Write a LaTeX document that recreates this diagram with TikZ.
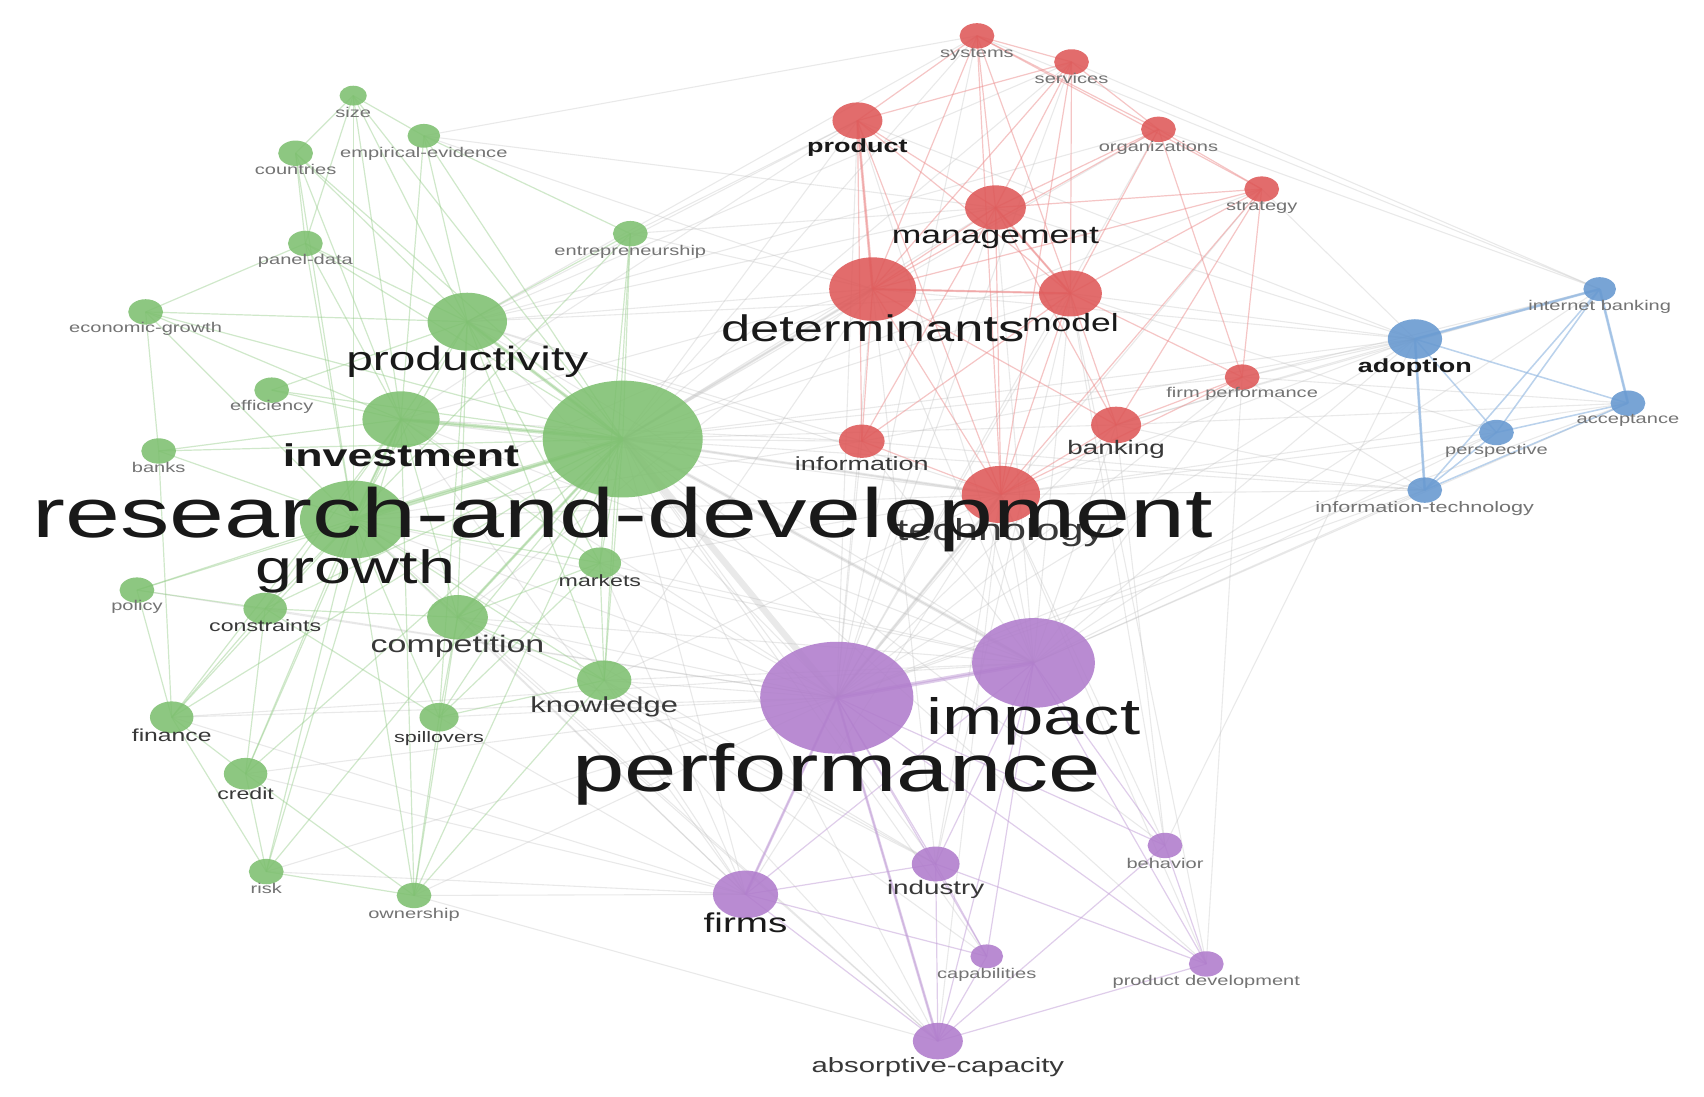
\documentclass[tikz,border=0pt]{standalone}
\usepackage{fontspec}
\setmainfont{Liberation Sans}[FakeStretch=1.42]
\usetikzlibrary{shapes.geometric,backgrounds}
\definecolor{ngreen}{RGB}{126,192,112}
\definecolor{nred}{RGB}{222,88,88}
\definecolor{nblue}{RGB}{102,152,208}
\definecolor{npurple}{RGB}{176,124,204}
\definecolor{egreen}{RGB}{150,205,138}
\definecolor{ered}{RGB}{236,140,140}
\definecolor{eblue}{RGB}{150,186,226}
\definecolor{epurple}{RGB}{192,156,214}
\definecolor{egray}{RGB}{185,185,185}
\newcommand\fsz[1]{\fontsize{#1}{#1}\selectfont}
\tikzset{
 kw/.style={ellipse, inner sep=0pt, fill opacity=0.88, draw=none},
 kwg/.style={kw, fill=ngreen},
 kwr/.style={kw, fill=nred},
 kwb/.style={kw, fill=nblue},
 kwp/.style={kw, fill=npurple},
 lab/.style={anchor=base, inner sep=0pt},
 lsmall/.style={lab, font=\fsz{13}, text=black!55},
 lmid/.style={lab, text=black!78},
 lbig/.style={lab, text=black!90},
 eg/.style={draw=egreen, line width=1.1pt, draw opacity=0.45},
 er/.style={draw=ered, line width=1.1pt, draw opacity=0.5},
 eb/.style={draw=eblue, line width=1.4pt, draw opacity=0.65},
 ep/.style={draw=epurple, line width=1.1pt, draw opacity=0.5},
 ex/.style={draw=egray, line width=1pt, draw opacity=0.3},
}
\begin{document}
\begin{tikzpicture}[x=1pt,y=-1pt]
\path[use as bounding box] (0,0) rectangle (1568,1009);
% ---- nodes (x, y, horizontal radius)
\foreach \n/\x/\y/\r in {size/325/88/12.5, emp/390/125/15, coun/272/141/16, panel/281/224/16, entr/580/215/16,
  econ/134/287/16, prod/430/296/36.5, eff/250/359/16, inv/369/386/35.5, rd/573/404/73.6, banks/146/415/16,
  grow/325/478/49, mark/552/518/19.5, pol/126/543/16, cons/244/560/20, comp/421/568/28, know/556/626/25,
  fin/158/660/20, spill/404/660/18, cred/226/712/20, risk/245/802/16, own/381/824/16}
  \node[kwg, minimum width={2*\r pt}, minimum height={2*\r pt/1.37}] (\n) at (\x,\y) {};
\foreach \n/\x/\y/\r in {sys/899/33/16, serv/986/57/16, pdt/789/111/23, org/1066/119/16, strat/1161/174/16,
  mgmt/916/191/28, det/803/266/40, model/985/270/29, fp/1143/347/16, bank/1027/391/23, info/793/406/21,
  tech/921/455/36}
  \node[kwr, minimum width={2*\r pt}, minimum height={2*\r pt/1.37}] (\n) at (\x,\y) {};
\foreach \n/\x/\y/\r in {ib/1472/266/15, adopt/1302/312/25, acc/1498/371/16, persp/1377/398/16, it/1311/451/16}
  \node[kwb, minimum width={2*\r pt}, minimum height={2*\r pt/1.37}] (\n) at (\x,\y) {};
\foreach \n/\x/\y/\r in {impact/951/610/56.5, perf/770/642/70.5, behav/1072/778/16, ind/861/795/22,
  firms/686/823/30, cap/908/880/15, pd/1110/887/16, abs/863/958/23}
  \node[kwp, minimum width={2*\r pt}, minimum height={2*\r pt/1.37}] (\n) at (\x,\y) {};
% ---- edges
\begin{scope}[on background layer]
\fill[white] (0,0) rectangle (1568,1009);
\foreach \a/\b in {rd/det, rd/tech, rd/model, rd/mgmt, rd/pdt, rd/info, rd/bank, rd/impact, rd/firms, rd/ind,
  rd/abs, rd/cap, rd/adopt, rd/fp, rd/sys, rd/it, rd/behav, rd/pd, rd/serv, rd/org, rd/strat,
  perf/det, perf/tech, perf/model, perf/mgmt, perf/pdt, perf/info, perf/bank, perf/fp, perf/adopt, perf/it,
  perf/know, perf/comp, perf/grow, perf/inv, perf/prod, perf/mark, perf/fin, perf/cred, perf/own, perf/risk,
  perf/spill, perf/strat, perf/org, perf/sys, perf/serv, perf/cons, perf/pol, perf/acc, perf/persp,
  impact/det, impact/tech, impact/model, impact/adopt, impact/bank, impact/inv, impact/prod, impact/grow,
  impact/persp, impact/acc, impact/it, impact/know, impact/comp, impact/mgmt, impact/pdt, impact/info,
  impact/fp, impact/ib, impact/fin, impact/mark,
  det/prod, det/inv, det/grow, det/comp, det/know, det/entr, det/adopt,
  tech/adopt, tech/it, tech/prod, tech/grow, tech/inv, tech/know, tech/mark, tech/firms, tech/ind, tech/abs,
  tech/persp, tech/acc, adopt/model, adopt/bank, adopt/mgmt, adopt/fp, adopt/pdt, adopt/info, adopt/strat,
  ib/sys, ib/org, ib/serv, ib/fp, ib/bank, acc/fp, acc/bank, it/bank, it/info, persp/model, it/fp,
  pdt/prod, pdt/entr, pdt/inv, mgmt/prod, mgmt/entr, model/prod, info/prod, info/grow, info/inv,
  sys/prod, sys/emp, serv/prod, org/prod, emp/det, emp/mgmt,
  firms/know, firms/comp, firms/grow, firms/inv, firms/own, firms/risk, firms/cred, firms/fin, firms/spill,
  firms/mark, ind/know, ind/comp, ind/grow, abs/know, abs/grow, abs/comp, abs/own, cap/know, behav/tech,
  behav/model, behav/bank, pd/tech, pd/fp, pd/model, ind/det, ind/model, behav/adopt}
  \draw[ex] (\a.center) -- (\b.center);
\foreach \a/\b in {rd/prod, rd/inv, rd/grow, rd/comp, rd/know, rd/mark, rd/entr, rd/emp, rd/size, rd/coun,
  rd/panel, rd/econ, rd/eff, rd/banks, rd/pol, rd/cons, rd/fin, rd/spill, rd/cred, rd/risk, rd/own,
  prod/inv, prod/grow, prod/comp, prod/size, prod/emp, prod/coun, prod/panel, prod/entr, prod/know,
  prod/spill, prod/econ, prod/mark, prod/eff,
  inv/grow, inv/fin, inv/cons, inv/cred, inv/banks, inv/size, inv/panel, inv/emp, inv/coun, inv/eff,
  inv/econ, inv/risk, inv/own, inv/comp, inv/mark,
  grow/fin, grow/cred, grow/cons, grow/pol, grow/econ, grow/banks, grow/comp, grow/know, grow/mark,
  grow/spill, grow/risk, grow/own, grow/entr, grow/size, grow/coun, grow/panel,
  size/coun, size/emp, size/panel, coun/panel, econ/banks, econ/panel, fin/cred, fin/cons, fin/pol,
  fin/banks, fin/risk, cred/cons, cred/risk, comp/know, comp/mark, comp/spill, comp/own, comp/cons,
  know/mark, know/spill, know/entr, know/own, entr/mark, emp/entr, spill/own, spill/cons, mark/spill,
  pol/cons, cred/own, risk/own}
  \draw[eg] (\a.center) -- (\b.center);
\foreach \a/\b in {pdt/det, pdt/mgmt, pdt/tech, pdt/info, pdt/sys, pdt/model, pdt/serv,
  sys/mgmt, sys/det, sys/model, sys/tech, sys/serv, sys/org, sys/strat,
  serv/mgmt, serv/det, serv/model, serv/org, serv/tech,
  org/mgmt, org/model, org/strat, org/fp, org/det,
  strat/tech, strat/bank, strat/model, strat/fp, strat/det, strat/mgmt,
  mgmt/det, mgmt/model, mgmt/tech, mgmt/info, mgmt/bank,
  det/model, det/tech, det/info, det/bank,
  model/tech, model/bank, model/info, model/fp, bank/tech, bank/fp, info/tech, tech/fp}
  \draw[er] (\a.center) -- (\b.center);
\foreach \a/\b in {adopt/ib, adopt/acc, adopt/persp, adopt/it, ib/acc, ib/persp, ib/it, acc/persp, acc/it, persp/it}
  \draw[eb] (\a.center) -- (\b.center);
\foreach \a/\b in {perf/impact, perf/firms, perf/ind, perf/abs, perf/cap, perf/behav, perf/pd,
  impact/firms, impact/ind, impact/abs, impact/cap, impact/behav, impact/pd,
  firms/ind, firms/abs, ind/cap, ind/abs, ind/pd, abs/cap, abs/pd, abs/behav, behav/pd, firms/cap}
  \draw[ep] (\a.center) -- (\b.center);
% stronger links
\draw[ex, line width=6pt, draw opacity=0.3] (rd.center) -- (perf.center);
\draw[ex, line width=3pt] (rd.center) -- (impact.center);
\draw[ex, line width=2.5pt] (rd.center) -- (det.center);
\draw[ex, line width=2.5pt] (rd.center) -- (tech.center);
\draw[ex, line width=2.5pt] (perf.center) -- (tech.center);
\draw[eg, line width=4pt] (rd.center) -- (grow.center);
\draw[eg, line width=3.5pt] (rd.center) -- (inv.center);
\draw[eg, line width=3pt] (rd.center) -- (prod.center);
\draw[eg, line width=2.5pt] (rd.center) -- (comp.center);
\draw[eg, line width=2pt] (inv.center) -- (grow.center);
\draw[er, line width=2.5pt] (pdt.center) -- (det.center);
\draw[er, line width=2pt] (det.center) -- (model.center);
\draw[er, line width=2pt] (mgmt.center) -- (model.center);
\draw[ep, line width=4pt] (perf.center) -- (impact.center);
\draw[ep, line width=2.5pt] (perf.center) -- (firms.center);
\draw[ep, line width=2.5pt] (perf.center) -- (abs.center);
\draw[eb, line width=2.5pt] (adopt.center) -- (ib.center);
\draw[eb, line width=2.5pt] (adopt.center) -- (it.center);
\draw[eb, line width=2.5pt] (ib.center) -- (acc.center);
\end{scope}
% ---- labels
\node[lsmall] (l-size) at (325,108) {size};
\node[lsmall] (l-emp) at (390,145) {empirical-evidence};
\node[lsmall] (l-coun) at (272,161) {countries};
\node[lsmall] (l-panel) at (281,243) {panel-data};
\node[lsmall] (l-entr) at (580,235) {entrepreneurship};
\node[lsmall] (l-econ) at (134,306) {economic-growth};
\node[lsmall] (l-eff) at (250,378) {efficiency};
\node[lsmall] (l-banks) at (146,435) {banks};
\node[lsmall] (l-pol) at (126,562) {policy};
\node[lsmall] (l-risk) at (245,822) {risk};
\node[lsmall] (l-own) at (381,845) {ownership};
\node[lmid, font=\fsz{14}] (l-spill) at (404,683) {spillovers};
\node[lmid, font=\fsz{15}] (l-mark) at (552,540) {markets};
\node[lmid, font=\fsz{15}] (l-cons) at (244,581) {constraints};
\node[lmid, font=\fsz{16}] (l-fin) at (158,682) {finance};
\node[lmid, font=\fsz{15}] (l-cred) at (226,736) {credit};
\node[lmid, font=\fsz{20}] (l-know) at (556,656) {knowledge};
\node[lmid, font=\fsz{22}] (l-comp) at (421,600) {competition};
\node[lbig, font=\fsz{31}] (l-prod) at (430,341) {productivity};
\node[lbig, font=\bfseries\fsz{29}] (l-inv) at (369,429) {investment};
\node[lbig, font=\fsz{43}] (l-grow) at (327,537) {growth};
% red
\node[lsmall] (l-sys) at (899,53) {systems};
\node[lsmall] (l-serv) at (986,77) {services};
\node[lsmall] (l-org) at (1066,139) {organizations};
\node[lsmall] (l-strat) at (1161,194) {strategy};
\node[lsmall] (l-fp) at (1143,366) {firm performance};
\node[lbig, font=\bfseries\fsz{17.5}] (l-pdt) at (789,140) {product};
\node[lbig, font=\fsz{23}] (l-mgmt) at (916,224) {management};
\node[lbig, font=\fsz{34}] (l-det) at (803,314) {determinants};
\node[lbig, font=\fsz{23}] (l-model) at (985,305) {model};
\node[lmid, font=\fsz{18}] (l-bank) at (1027,418) {banking};
\node[lmid, font=\fsz{17.5}] (l-info) at (793,433) {information};
\node[lmid, font=\fsz{28}] (l-tech) at (921,497) {technology};
% blue
\node[lsmall] (l-ib) at (1472,286) {internet banking};
\node[lsmall] (l-acc) at (1498,390) {acceptance};
\node[lsmall] (l-persp) at (1377,418) {perspective};
\node[lsmall, font=\fsz{14}] (l-it) at (1311,472) {information-technology};
\node[lbig, font=\bfseries\fsz{17.5}] (l-adopt) at (1302,343) {adoption};
% purple
\node[lsmall] (l-behav) at (1072,799) {behavior};
\node[lsmall] (l-cap) at (908,900) {capabilities};
\node[lsmall] (l-pd) at (1110,907) {product development};
\node[lmid, font=\fsz{18}] (l-ind) at (861,823) {industry};
\node[lmid, font=\fsz{19}] (l-abs) at (863,987) {absorptive-capacity};
\node[lbig, font=\fsz{25}] (l-firms) at (686,858) {firms};
\node[lbig, font=\fsz{47}] (l-impact) at (951,676) {impact};
\node[lbig, font=\fsz{61}] (l-perf) at (770,728) {performance};
\node[lbig, font=\fsz{64}] (l-rd) at (573,495) {research-and-development};
\end{tikzpicture}
\end{document}
